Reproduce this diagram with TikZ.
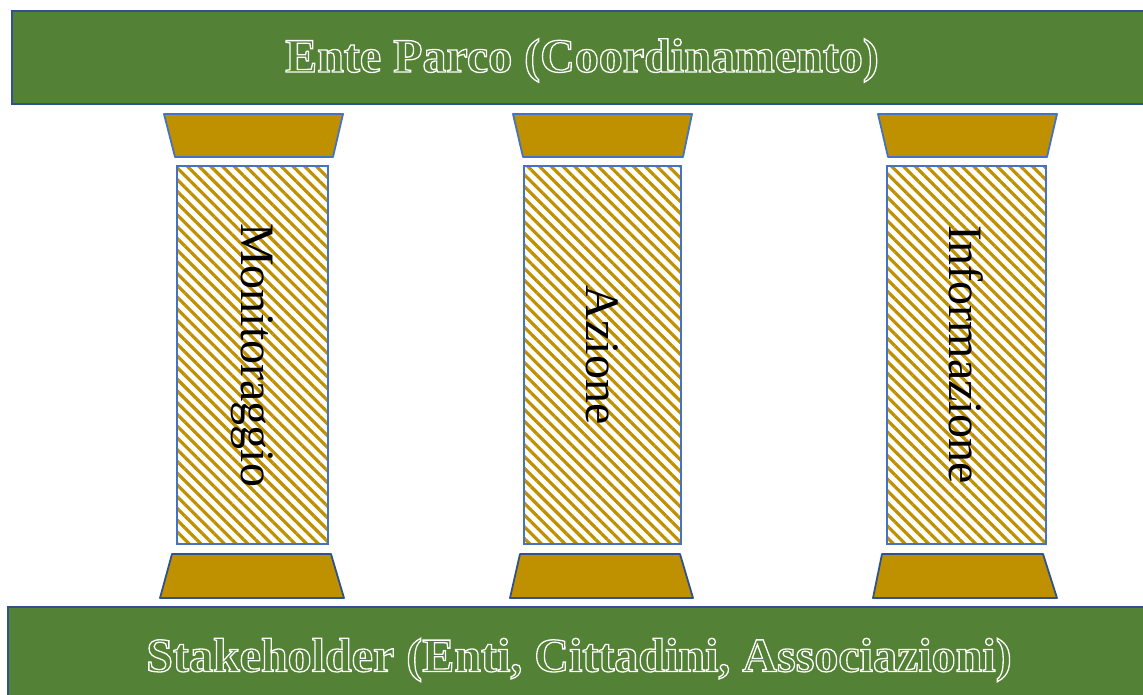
\documentclass[tikz,border=0pt]{standalone}
\usepackage{fontspec}
\setmainfont{Liberation Serif}
\usetikzlibrary{patterns.meta}
\definecolor{parkgreen}{HTML}{538135}
\definecolor{gold}{HTML}{BF9000}
\definecolor{edgedark}{HTML}{2F528F}
\definecolor{edgelight}{HTML}{4472C4}
% hollow lettering: glyphs stroked in white, not filled
\newcommand{\hollow}[1]{\special{pdf:literal direct 1 Tr 1.3 w}#1\special{pdf:literal direct 0 Tr}}
\begin{document}
\begin{tikzpicture}[x=1pt,y=-1pt,
  bar/.style={fill=parkgreen, draw=edgedark, line width=2pt, inner sep=0pt},
  bartext/.style={inner sep=0pt, text=white, font=\fontsize{48}{58}\selectfont\bfseries},
  shaft/.style={draw=edgelight, line width=1.6pt, inner sep=0pt,
    pattern={Lines[angle=-45,distance=8.3pt,line width=3.2pt]}, pattern color=gold},
  capital/.style={fill=gold, draw=edgelight, line width=1.8pt, line join=round},
  basepiece/.style={fill=gold, draw=edgedark, line width=1.8pt, line join=round},
  pillartext/.style={rotate=-90, inner sep=0pt, font=\fontsize{48}{56}\selectfont}]
\useasboundingbox (0,0) rectangle (1143,695);

% roof and foundation
\node[bar, minimum width=1140pt, minimum height=93pt] (roof) at (582,57.5) {};
\node[bar, minimum width=1142pt, minimum height=100pt] (ground) at (579,657) {};
\node[bartext] (rooftext) at ([yshift=-3pt]roof.center) {\hollow{Ente Parco (Coordinamento)}};
\node[bartext] (groundtext) at ([yshift=-3pt]ground.center)
  {\hollow{Stakeholder (Enti, Cittadini, Associazioni)}};

% capitals
\draw[capital] (164,114) -- (343,114) -- (333,157) -- (175,157) -- cycle;
\draw[capital] (513,114) -- (692,114) -- (683,157) -- (523,157) -- cycle;
\draw[capital] (878,114) -- (1057,114) -- (1047,157) -- (888,157) -- cycle;

% shafts
\node[shaft, minimum width=151pt, minimum height=378pt] (mon) at (252.5,355) {};
\node[shaft, minimum width=157pt, minimum height=378pt] (azi) at (602.5,355) {};
\node[shaft, minimum width=159pt, minimum height=378pt] (inf) at (966.5,355) {};

\node[pillartext] (montext) at (mon.center) {Monitoraggio};
\node[pillartext] (azitext) at (azi.center) {Azione};
\node[pillartext] (inftext) at (inf.center) {Informazione};

% bases
\draw[basepiece] (172,554) -- (331,554) -- (344,598) -- (160,598) -- cycle;
\draw[basepiece] (520,554) -- (680,554) -- (693,598) -- (510,598) -- cycle;
\draw[basepiece] (882,554) -- (1043,554) -- (1057,598) -- (873,598) -- cycle;
\end{tikzpicture}
\end{document}
